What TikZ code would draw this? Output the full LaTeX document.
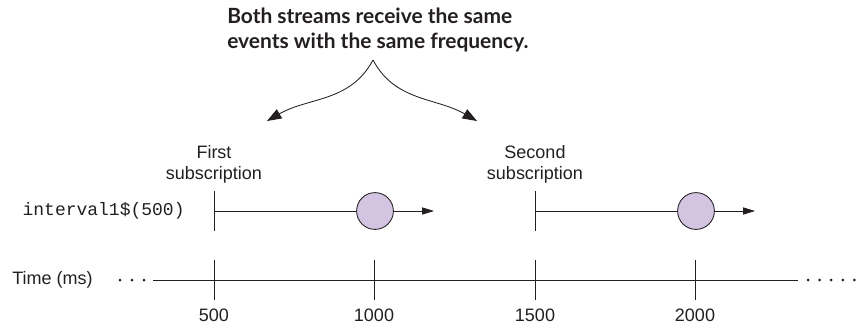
\documentclass[tikz,border=0pt]{standalone}
\usepackage{fontspec}
\setmainfont{Liberation Sans}
\setmonofont{Liberation Mono}
\newfontfamily\titlefont{Lato}
\usetikzlibrary{positioning, arrows.meta}
\usepackage{xcolor}
\definecolor{eventcolor}{RGB}{211,196,225}
\definecolor{inkcolor}{RGB}{35,31,32}

\begin{document}
\begin{tikzpicture}
  \tikzset{
    every node/.style={
      text=inkcolor,
      font=\fontsize{12.8}{15.4}\selectfont
    },
    line/.style={
      draw=inkcolor,
      line width=0.6pt
    },
    tick/.style={
      draw=inkcolor,
      line width=0.7pt
    },
    event/.style={
      circle,
      draw=inkcolor,
      line width=0.6pt,
      fill=eventcolor,
      minimum size=0.92cm,
      inner sep=0pt
    },
    subcaption/.style={
      align=center,
      inner sep=0pt
    },
    headline/.style={
      align=left,
      inner sep=0pt,
      anchor=north west,
      font=\titlefont\bfseries\fontsize{14.9}{17.8}\selectfont
    },
    pointer/.style={
      draw=inkcolor,
      line width=0.6pt,
      -{Triangle[length=3.6mm,width=2.6mm]}
    },
    flow/.style={
      draw=inkcolor,
      line width=0.6pt,
      -{Triangle[length=3mm,width=1.8mm]}
    },
    dot/.style={
      circle,
      fill=inkcolor,
      inner sep=0pt,
      minimum size=0.075cm
    }
  }
  \useasboundingbox (0,0) rectangle (21.55,8.3);

  % Heading and the pointers down to both subscriptions
  \node[headline] (title) at (5.675,8.1) {Both streams receive the same\\events with the same frequency.};
  \coordinate (peak) at (9.325,6.8);
  \coordinate (tipA) at (6.675,5.275);
  \coordinate (tipB) at (11.925,5.275);
  \draw[pointer] (peak) to[out=-118,in=30] (tipA);
  \draw[pointer] (peak) to[out=-62,in=150] (tipB);

  % Subscription markers on the stream line
  \coordinate (subA) at (5.35,3.025);
  \coordinate (subB) at (13.375,3.025);
  \draw[tick] ([yshift=0.5cm]subA) coordinate (subAtop) -- ([yshift=-0.5cm]subA);
  \draw[tick] ([yshift=0.5cm]subB) coordinate (subBtop) -- ([yshift=-0.5cm]subB);
  \node[subcaption, above=0.18cm of subAtop] (first) {First\\subscription};
  \node[subcaption, above=0.18cm of subBtop] (second) {Second\\subscription};

  % Stream name
  \node (stream) at (2.59,3.025) {\ttfamily interval1\$(500)};

  % Emitted values
  \node[event] at (9.375,3.025) (evA) {};
  \coordinate (endA) at (10.85,3.025);
  \draw[line] (subA) -- (evA);
  \draw[flow] (evA) -- (endA);
  \node[event] at (17.4,3.025) (evB) {};
  \coordinate (endB) at (18.875,3.025);
  \draw[line] (subB) -- (evB);
  \draw[flow] (evB) -- (endB);

  % Time axis
  \node (time) at (1.31,1.3) {Time (ms)};
  \coordinate (axisL) at (3.825,1.3);
  \coordinate (axisR) at (19.95,1.3);
  \draw[line] (axisL) -- (axisR);
  \foreach \x in {3.0, 3.3, 3.6}
    \node[dot] at (\x,1.3) {};
  \foreach \x in {20.2, 20.49, 20.78, 21.07, 21.36}
    \node[dot] at (\x,1.3) {};
  \foreach \x/\t in {5.35/500, 9.35/1000, 13.375/1500, 17.375/2000}{
    \draw[tick] (\x,1.8) -- (\x,0.8);
    \node at (\x,0.425) (ms\t) {\t};
  }
\end{tikzpicture}
\end{document}
